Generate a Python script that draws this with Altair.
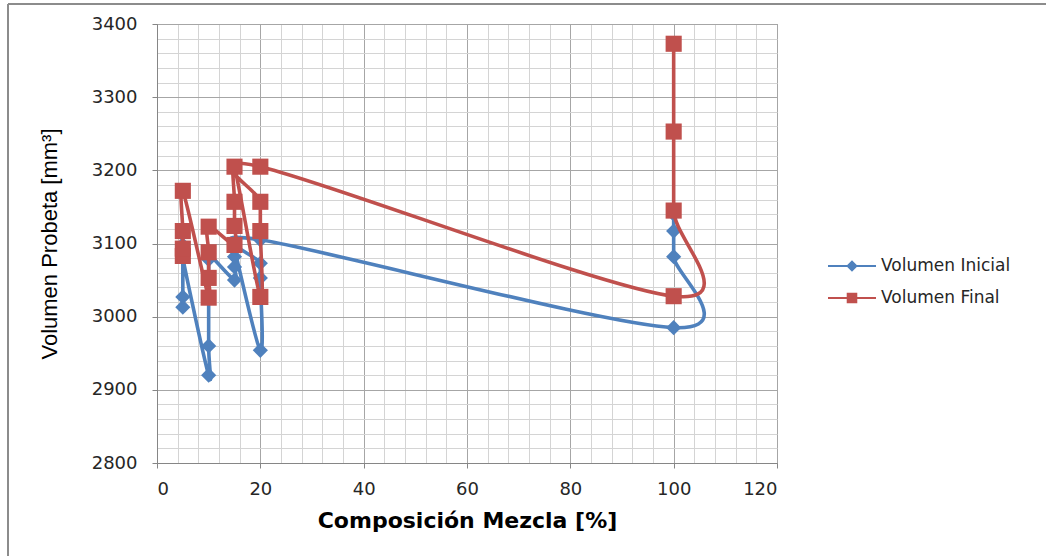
import altair as alt
import pandas as pd

# ---- data ----
series_names = ["Volumen Inicial", "Volumen Final"]
series_colors = ["#4F81BD", "#C0504D"]

comp_inicial = [5, 5, 5, 5, 10, 10, 10, 10, 15, 15, 15, 15, 20, 20, 20, 20, 100, 100, 100, 100]
vol_inicial = [3013, 3027, 3098, 3080,
               2920, 2960, 3078, 3086,
               3050, 3068, 3082, 3092,
               2954, 3053, 3073, 3105,
               2985, 3082, 3117, 3140]

comp_final = [5, 5, 5, 5, 10, 10, 10, 10, 15, 15, 15, 15, 20, 20, 20, 20, 100, 100, 100, 100]
vol_final = [3083, 3093, 3117, 3172,
             3026, 3053, 3088, 3123,
             3098, 3124, 3157, 3205,
             3027, 3117, 3157, 3205,
             3028, 3145, 3253, 3373]

x_ticks = list(range(0, 121, 4))
y_ticks = list(range(2800, 3401, 20))

rows = []
for i, (c, v) in enumerate(zip(comp_inicial, vol_inicial)):
    rows.append({"serie": series_names[0], "comp": c, "vol": v, "idx": i})
for i, (c, v) in enumerate(zip(comp_final, vol_final)):
    rows.append({"serie": series_names[1], "comp": c, "vol": v, "idx": i})
df = pd.DataFrame(rows)

W, H = 620, 439
PAD_L, PAD_T = 157, 24

x_enc = alt.X(
    "comp:Q",
    scale=alt.Scale(domain=[0, 120], nice=False, zero=False),
    axis=alt.Axis(
        values=x_ticks,
        labelExpr="datum.value % 20 === 0 ? datum.label : ''",
        labelOverlap=False,
        gridColor={"condition": {"test": "datum.value % 20 === 0", "value": "#a6a6a6"}, "value": "#d4d4d4"},
        gridWidth=1,
        tickOpacity={"condition": {"test": "datum.value % 20 === 0", "value": 1}, "value": 0},
        tickColor="#868686",
        tickSize=5,
        domainColor="#868686",
        labelFont="DejaVu Sans",
        labelFontSize=18,
        labelColor="#262626",
        labelPadding=12,
        title="Composición Mezcla [%]",
        titleFont="DejaVu Sans",
        titleFontSize=22,
        titleFontWeight="bold",
        titleColor="#000000",
        titlePadding=12,
    ),
)
y_enc = alt.Y(
    "vol:Q",
    scale=alt.Scale(domain=[2800, 3400], nice=False, zero=False),
    axis=alt.Axis(
        values=y_ticks,
        labelExpr="datum.value % 100 === 0 ? datum.label : ''",
        labelOverlap=False,
        format="d",
        gridColor={"condition": {"test": "datum.value % 100 === 0", "value": "#a6a6a6"}, "value": "#d4d4d4"},
        gridWidth=1,
        tickOpacity={"condition": {"test": "datum.value % 100 === 0", "value": 1}, "value": 0},
        tickColor="#868686",
        tickSize=5,
        domainColor="#868686",
        labelFont="DejaVu Sans",
        labelFontSize=18,
        labelColor="#262626",
        labelPadding=15,
        title="Volumen Probeta [mm³]",
        titleFont="Liberation Sans Narrow, Arial Narrow, Liberation Sans",
        titleFontSize=22,
        titleFontWeight="normal",
        titleColor="#000000",
        titlePadding=30,
    ),
)

base = alt.Chart(df)

layers = []
marker_shapes = ["diamond", "square"]
marker_sizes = [230, 260]
for name, col, shp, sz in zip(series_names, series_colors, marker_shapes, marker_sizes):
    sub = base.transform_filter(alt.datum.serie == name)
    line = sub.mark_line(
        interpolate="cardinal", tension=0, strokeWidth=3.6, color=col
    ).encode(x=x_enc, y=y_enc, order=alt.Order("idx:Q"))
    pts = sub.mark_point(
        shape=shp, filled=True, size=sz, color=col, opacity=1
    ).encode(x=x_enc, y=y_enc)
    layers += [line, pts]

# legend-only layer (no data rows drawn)
leg_diamond = "M-1,-0.038H1V0.038H-1Z M-0.24,0L0,-0.24L0.24,0L0,0.24Z"
leg_square = "M-1,-0.038H1V0.038H-1Z M-0.22,-0.22H0.22V0.22H-0.22Z"
leg_props = dict(
    title=None,
    orient="none",
    legendX=671,
    legendY=218,
    symbolSize=2304,
    symbolStrokeWidth=0,
    labelFont="DejaVu Sans",
    labelFontSize=17,
    labelColor="#262626",
    labelOffset=5,
    rowPadding=-3,
)
legend_layer = base.transform_filter("datum.vol < 0").mark_point(
    filled=True, opacity=1
).encode(
    x=x_enc,
    y=y_enc,
    color=alt.Color(
        "serie:N",
        scale=alt.Scale(domain=series_names, range=series_colors),
        legend=alt.Legend(**leg_props),
    ),
    shape=alt.Shape(
        "serie:N",
        scale=alt.Scale(domain=series_names, range=[leg_diamond, leg_square]),
        legend=alt.Legend(**leg_props),
    ),
)
layers.append(legend_layer)

frame_df = pd.DataFrame({"a": [0]})
frame_left = alt.Chart(frame_df).mark_rule(color="#8c8c8c", strokeWidth=2).encode(
    x=alt.value(-149), y=alt.value(-20), y2=alt.value(H + 93)
)
frame_top = alt.Chart(frame_df).mark_rule(color="#8c8c8c", strokeWidth=2).encode(
    x=alt.value(-149), x2=alt.value(W + 269), y=alt.value(-20)
)
layers += [frame_left, frame_top]

chart = alt.layer(*layers).properties(
    width=W,
    height=H,
    autosize="none",
    padding={"left": PAD_L, "top": PAD_T, "right": 1046 - PAD_L - W, "bottom": 556 - PAD_T - H},
    background="white",
).configure_view(stroke="#868686", strokeWidth=1)

chart.save("out.html", embed_options={"renderer": "svg", "actions": False})
